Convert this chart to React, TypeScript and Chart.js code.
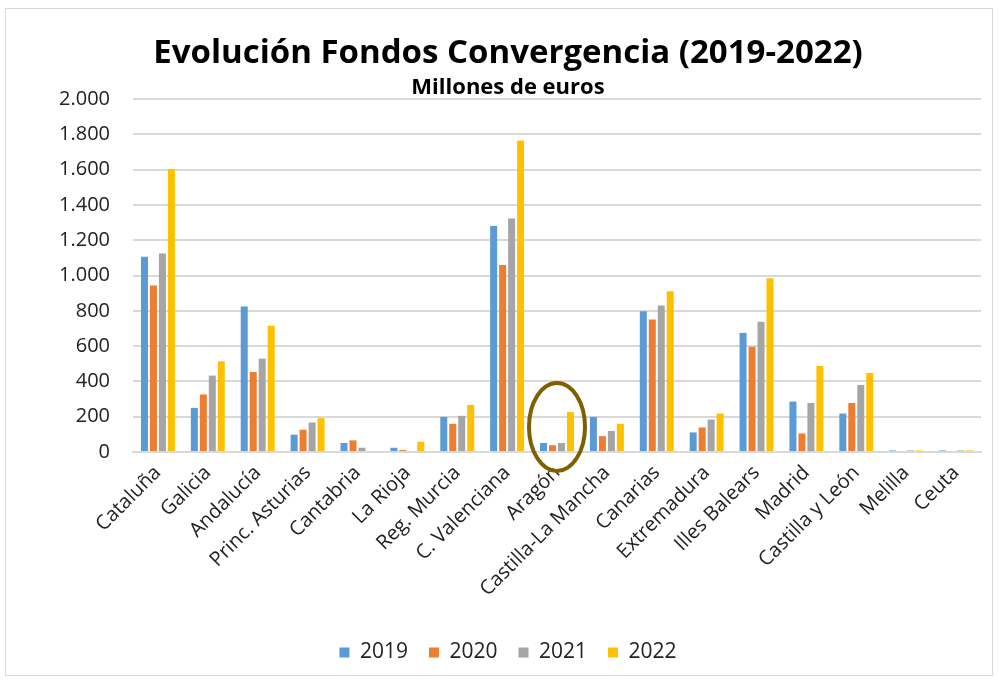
import React, { useEffect, useRef } from "react";
import { Chart, registerables } from "chart.js";

Chart.register(...registerables);

const categories = [
  "Cataluña", "Galicia", "Andalucía", "Princ. Asturias", "Cantabria", "La Rioja",
  "Reg. Murcia", "C. Valenciana", "Aragón", "Castilla-La Mancha", "Canarias",
  "Extremadura", "Illes Balears", "Madrid", "Castilla y León", "Melilla", "Ceuta",
];
const values2019 = [1106, 250, 824, 98, 51, 24, 199, 1281, 51, 199, 798, 111, 675, 286, 218, 9, 9];
const values2020 = [944, 326, 453, 126, 66, 11, 160, 1059, 38, 90, 751, 139, 596, 105, 278, 0, 0];
const values2021 = [1125, 433, 529, 167, 24, 0, 205, 1323, 51, 119, 830, 184, 738, 278, 380, 9, 9];
const values2022 = [1603, 514, 715, 192, 0, 58, 267, 1765, 226, 160, 911, 218, 984, 487, 448, 9, 9];
const seriesLabels = ["2019", "2020", "2021", "2022"];
const seriesColors = ["#5B9BD5", "#ED7D31", "#A5A5A5", "#FFC000"];
const highlightIndex = 8; // Aragón
const highlightValue = 142;

const FONT = "'Open Sans', Lato, sans-serif";

const ellipsePlugin = {
  id: "highlightEllipse",
  afterDatasetsDraw(chart: any) {
    const { ctx, scales } = chart;
    const cx = scales.x.getPixelForValue(highlightIndex);
    const cy = scales.y.getPixelForValue(highlightValue);
    ctx.save();
    ctx.beginPath();
    ctx.ellipse(cx, cy, 28, 44, 0, 0, Math.PI * 2);
    ctx.lineWidth = 4;
    ctx.strokeStyle = "#7F6000";
    ctx.stroke();
    ctx.restore();
  },
};

export default function App() {
  const ref = useRef<HTMLCanvasElement | null>(null);
  useEffect(() => {
    document.body.style.margin = "0";
    const data = [values2019, values2020, values2021, values2022];
    const chart = new Chart(ref.current!, {
      type: "bar",
      data: {
        labels: categories,
        datasets: data.map((d, i) => ({
          label: seriesLabels[i],
          data: d,
          backgroundColor: seriesColors[i],
          categoryPercentage: 0.72,
          barPercentage: 0.78,
        })),
      },
      options: {
        animation: false,
        responsive: false,
        maintainAspectRatio: false,
        layout: { padding: { left: 29, right: 11, top: 0, bottom: 2 } },
        plugins: {
          title: {
            display: true,
            text: "Evolución Fondos Convergencia (2019-2022)",
            color: "#000",
            font: { family: FONT, size: 33, weight: "bold", lineHeight: 1.0 },
            padding: { top: 28, bottom: 0 },
          },
          subtitle: {
            display: true,
            text: "Millones de euros",
            color: "#000",
            font: { family: FONT, size: 22, weight: "bold", lineHeight: 1.0 },
            padding: { top: 7, bottom: 0 },
          },
          legend: {
            position: "bottom",
            labels: {
              boxWidth: 10,
              boxHeight: 10,
              color: "#222",
              font: { family: FONT, size: 21 },
              padding: 21,
            },
          },
          tooltip: { enabled: false },
        },
        scales: {
          x: {
            grid: { display: false, drawTicks: false },
            border: { color: "#d9d9d9", width: 2 },
            ticks: {
              color: "#222",
              font: { family: FONT, size: 20 },
              minRotation: 45,
              maxRotation: 45,
              autoSkip: false,
              padding: 9,
            },
            afterFit(scale: any) {
              scale.height = 169;
            },
          },
          y: {
            min: 0,
            max: 2000,
            ticks: {
              stepSize: 200,
              color: "#222",
              font: { family: FONT, size: 20 },
              padding: 23,
              callback: (v: any) => Number(v).toLocaleString("de-DE"),
            },
            grid: { color: "#d9d9d9", lineWidth: 2, drawTicks: false },
            border: { display: false },
            afterFit(scale: any) {
              scale.width = 98;
            },
          },
        },
      },
      plugins: [ellipsePlugin],
    });
    return () => chart.destroy();
  }, []);
  return (
    <div style={{ width: 998, height: 681, position: "relative", background: "#fff" }}>
      <div
        style={{
          position: "absolute",
          left: 5,
          top: 8,
          width: 986,
          height: 666,
          border: "1px solid #d9d9d9",
        }}
      >
        <canvas ref={ref} width={986} height={666} style={{ display: "block" }} />
      </div>
    </div>
  );
}
